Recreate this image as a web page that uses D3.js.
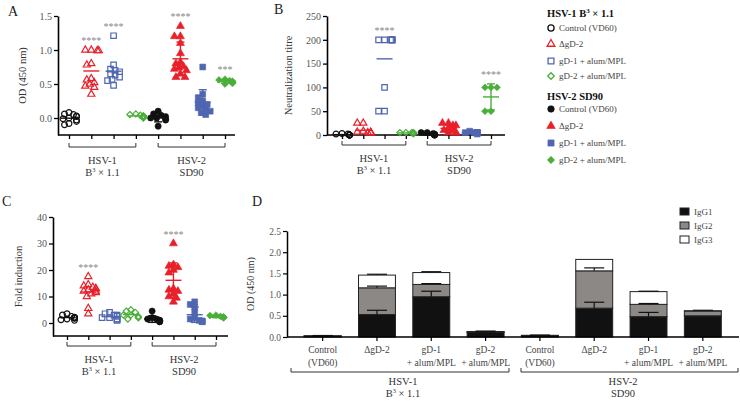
<!DOCTYPE html>
<html>
<head>
<meta charset="utf-8">
<script src="https://cdn.jsdelivr.net/npm/d3@7"></script>
<style>
  body { margin: 0; background: #fff; }
  svg { font-family: "Liberation Serif", "DejaVu Serif", serif; }
</style>
</head>
<body>
<svg id="chart" width="740" height="401"></svg>
<script>
// groups, left to right in panels A-C
var groups = ["h1_ctrl", "h1_dgd2", "h1_gd1", "h1_gd2", "h2_ctrl", "h2_dgd2", "h2_gd1", "h2_gd2"];

// panel A: OD (450 nm)
var a_h1_ctrl = [0.08, 0.06, 0.05, 0.03, 0.02, 0.0, -0.01, -0.03, -0.05, -0.08, -0.1];
var a_h1_dgd2 = [1.0, 1.0, 0.99, 0.99, 0.8, 0.78, 0.58, 0.56, 0.52, 0.5, 0.47, 0.45, 0.35];
var a_h1_gd1 = [1.21, 0.78, 0.72, 0.7, 0.68, 0.65, 0.63, 0.6, 0.57, 0.55, 0.48];
var a_h1_gd2 = [0.06, 0.05, 0.04, 0.03, 0.03, 0.02, 0.01, 0.0];
var a_h2_ctrl = [0.1, 0.06, 0.04, 0.02, 0.0, 0.0, -0.02, -0.03, -0.12];
var a_h2_dgd2 = [1.35, 1.2, 1.2, 1.1, 0.95, 0.82, 0.8, 0.76, 0.74, 0.72, 0.7, 0.65, 0.6, 0.6];
var a_h2_gd1 = [0.75, 0.35, 0.3, 0.25, 0.22, 0.2, 0.18, 0.15, 0.12, 0.1, 0.08, 0.05];
var a_h2_gd2 = [0.57, 0.56, 0.55, 0.54, 0.53, 0.52, 0.51, 0.5];
var a_stars = ["", "****", "****", "", "", "****", "", "***"];

// panel B: neutralization titre
var b_h1_ctrl = [3, 2, 2, 0, 0, 0, 0, 0];
var b_h1_dgd2 = [25, 25, 8, 6, 5, 5, 5, 5, 5];
var b_h1_gd1 = [200, 200, 200, 200, 200, 200, 200, 100, 50, 50];
var b_h1_gd2 = [5, 5, 5, 5, 5, 3, 3];
var b_h2_ctrl = [5, 5, 3, 2, 0, 0, 0, 0];
var b_h2_dgd2 = [25, 25, 20, 20, 15, 10, 10, 5, 5, 5];
var b_h2_gd1 = [8, 5, 5, 5, 5, 5, 5, 5, 2];
var b_h2_gd2 = [100, 100, 100, 50, 50];
var b_stars = ["", "", "****", "", "", "", "", "****"];

// panel C: fold induction
var c_h1_ctrl = [3.5, 3, 2.5, 2.2, 2, 2, 1.8, 1.5, 1.2, 1];
var c_h1_dgd2 = [17.5, 14.5, 14, 13.5, 13, 13, 12.5, 12, 12, 11.5, 11, 10, 5.5, 3.5];
var c_h1_gd1 = [4, 3.5, 3, 3, 2.5, 2, 2, 1.5, 1.5, 1];
var c_h1_gd2 = [5, 4.5, 4, 3, 3, 2.5, 2, 1.5];
var c_h2_ctrl = [4.5, 2, 1.5, 1.5, 1, 1, 0.8, 0.5, 0.5];
var c_h2_dgd2 = [30, 22, 21.5, 21, 20, 19, 13, 12.5, 12, 11, 10, 9.5, 8];
var c_h2_gd1 = [8, 7, 6, 4, 2, 1.5, 1, 0.8, 0.5, 0.5];
var c_h2_gd2 = [3, 2.8, 2.5, 2.3, 2.2, 2, 2];
var c_stars = ["", "****", "", "", "", "****", "", ""];

// panel D: IgG subclasses, stacked
var d_cats = ["h1_ctrl", "h1_dgd2", "h1_gd1", "h1_gd2", "h2_ctrl", "h2_dgd2", "h2_gd1", "h2_gd2"];
var d_labels = [["Control", "(VD60)"], ["ΔgD-2"], ["gD-1", "+ alum/MPL"], ["gD-2", "+ alum/MPL"],
                ["Control", "(VD60)"], ["ΔgD-2"], ["gD-1", "+ alum/MPL"], ["gD-2", "+ alum/MPL"]];
var d_igg1 = [0.02, 0.53, 0.95, 0.11, 0.03, 0.68, 0.48, 0.50];
var d_igg2 = [0.005, 0.63, 0.29, 0.01, 0.005, 0.88, 0.29, 0.11];
var d_igg3 = [0.005, 0.30, 0.28, 0.01, 0.005, 0.27, 0.30, 0.01];
var d_err1 = [0.005, 0.10, 0.13, 0.01, 0.005, 0.14, 0.10, 0.0];
var d_err2 = [0, 0.04, 0.02, 0, 0, 0.07, 0.02, 0.0];
var d_err3 = [0.005, 0.02, 0.02, 0.01, 0.005, 0.0, 0.01, 0.01];

var red = "#e8202a", blue = "#5066b0", green = "#4aae3a", black = "#111";
var diamond = d3.symbolDiamond2 || d3.symbolDiamond;
var gColor = [black, red, blue, green, black, red, blue, green];
var gShape = [d3.symbolCircle, d3.symbolTriangle, d3.symbolSquare, diamond,
              d3.symbolCircle, d3.symbolTriangle, d3.symbolSquare, diamond];
var gSize = [26, 22, 30, 24, 30, 28, 34, 30];
var gOpen = [true, true, true, true, false, false, false, false];

var svg = d3.select("#chart");

function txt(x, y, s, opt) {
  opt = opt || {};
  var t = svg.append("text").attr("x", x).attr("y", y)
    .attr("font-size", opt.size || 10)
    .attr("fill", opt.fill || "#333")
    .attr("text-anchor", opt.anchor || "start")
    .text(s);
  if (opt.weight) t.attr("font-weight", opt.weight);
  if (opt.rotate) t.attr("transform", "rotate(-90," + x + "," + y + ")");
  return t;
}

function strainLabel(x, y, first, second, size) {
  txt(x, y, first, {anchor: "middle", size: size});
  if (second === "B3") {
    var t = txt(x, y + 12, "B", {anchor: "middle", size: size});
    t.append("tspan").attr("font-size", size * 0.6).attr("dy", -4).text("3");
    t.append("tspan").attr("dy", 4).text(" × 1.1");
  } else {
    txt(x, y + 12, second, {anchor: "middle", size: size});
  }
}

function bracket(x0, x1, y) {
  svg.append("path")
    .attr("d", "M" + x0 + "," + (y - 4) + "V" + y + "H" + x1 + "V" + (y - 4))
    .attr("fill", "none").attr("stroke", "#333").attr("stroke-width", 1);
}

// simple beeswarm so overlapping points sit side by side
function swarm(vals, y, minD, step, maxOff) {
  var pts = vals.map(function (v) { return {v: v, py: y(v)}; })
    .sort(function (a, b) { return a.py - b.py; });
  var placed = [];
  pts.forEach(function (d) {
    var best = 0;
    for (var k = 0; k < 40; k++) {
      var off = (k % 2 ? -1 : 1) * Math.ceil(k / 2) * step;
      if (Math.abs(off) > maxOff) break;
      var ok = placed.every(function (p) {
        var dx = p.dx - off, dy = p.py - d.py;
        return dx * dx + dy * dy >= minD * minD;
      });
      if (ok) { best = off; break; }
      best = off;
    }
    d.dx = best;
    placed.push(d);
  });
  return pts;
}

function scatterPanel(p) {
  var y = d3.scaleLinear().domain(p.yDomain).range([p.yBottom, p.yTop]);
  var x = d3.scalePoint().domain(groups).range(p.xRange);

  var gy = svg.append("g").attr("transform", "translate(" + p.axisX + ",0)")
    .call(d3.axisLeft(y).tickValues(p.yTicks).tickFormat(p.fmt).tickSize(4).tickSizeOuter(0));
  gy.select(".domain").attr("stroke", "#000").attr("stroke-width", 1.6);
  gy.selectAll(".tick line").attr("stroke", "#000").attr("stroke-width", 1.3);
  gy.selectAll(".tick text").attr("font-family", "Liberation Serif").attr("font-size", 10).attr("fill", "#555").attr("x", -6);

  svg.append("line").attr("x1", p.axisX).attr("x2", p.xEnd)
    .attr("y1", p.yBottom).attr("y2", p.yBottom)
    .attr("stroke", "#000").attr("stroke-width", 1.6);
  var gx = svg.append("g").attr("transform", "translate(0," + p.yBottom + ")")
    .call(d3.axisBottom(x).tickSize(4).tickFormat(""));
  gx.select(".domain").remove();
  gx.selectAll(".tick line").attr("stroke", "#000").attr("stroke-width", 1.3);

  txt(p.labelX, (p.yTop + p.yBottom) / 2, p.yLabel, {anchor: "middle", rotate: true, size: 10.5, fill: "#333"});

  p.series.forEach(function (vals, i) {
    var g = groups[i], cx = x(g), col = gColor[i];
    var pts = swarm(vals, y, 4.6, 1.5, 8);
    var sym = d3.symbol().type(gShape[i]).size(gSize[i]);
    svg.append("g").selectAll("path").data(pts).enter().append("path")
      .attr("d", sym)
      .attr("transform", function (d) { return "translate(" + (cx + d.dx) + "," + d.py + ")"; })
      .attr("fill", gOpen[i] ? "none" : col)
      .attr("stroke", col).attr("stroke-width", gOpen[i] ? 1.2 : 0.6);

    // mean line for all groups, SD whiskers only on the HSV-2 (filled) groups
    var m = d3.mean(vals), sd = d3.deviation(vals) || 0;
    var lg = svg.append("g").attr("stroke", col).attr("stroke-width", 1.4);
    lg.append("line").attr("x1", cx - 8).attr("x2", cx + 8).attr("y1", y(m)).attr("y2", y(m));
    if (!gOpen[i]) {
      lg.append("line").attr("x1", cx).attr("x2", cx).attr("y1", y(m - sd)).attr("y2", y(m + sd));
      [m - sd, m + sd].forEach(function (v) {
        lg.append("line").attr("x1", cx - 4).attr("x2", cx + 4).attr("y1", y(v)).attr("y2", y(v));
      });
    }

    if (p.stars[i]) {
      var top = Math.min(y(d3.max(vals)), gOpen[i] ? 1e9 : y(m + sd));
      txt(cx, top - 6, p.stars[i], {anchor: "middle", size: 10, fill: "#888"});
    }
  });

  var first = x(groups[0]), h1end = x(groups[3]), h2start = x(groups[4]), last = x(groups[7]);
  bracket(first, h1end, p.bracketY);
  bracket(h2start, last, p.bracketY);
  strainLabel((first + h1end) / 2, p.bracketY + 17, "HSV-1", "B3", 10.5);
  strainLabel((h2start + last) / 2, p.bracketY + 17, "HSV-2", "SD90", 10.5);
}

var fmt1 = d3.format(".1f"), fmt0 = d3.format("d");

scatterPanel({
  yDomain: [-0.25, 1.5], yBottom: 135, yTop: 16, yTicks: [0, 0.5, 1.0, 1.5], fmt: fmt1,
  xRange: [69, 225], axisX: 58, xEnd: 235, labelX: 26, yLabel: "OD (450 nm)",
  series: [a_h1_ctrl, a_h1_dgd2, a_h1_gd1, a_h1_gd2, a_h2_ctrl, a_h2_dgd2, a_h2_gd1, a_h2_gd2],
  stars: a_stars, bracketY: 147
});

scatterPanel({
  yDomain: [0, 250], yBottom: 135, yTop: 16, yTicks: [0, 50, 100, 150, 200, 250], fmt: fmt0,
  xRange: [342, 491], axisX: 327, xEnd: 505, labelX: 292, yLabel: "Neutralization titre",
  series: [b_h1_ctrl, b_h1_dgd2, b_h1_gd1, b_h1_gd2, b_h2_ctrl, b_h2_dgd2, b_h2_gd1, b_h2_gd2],
  stars: b_stars, bracketY: 145
});

scatterPanel({
  yDomain: [-4.9, 40], yBottom: 336, yTop: 217, yTicks: [0, 10, 20, 30, 40], fmt: fmt0,
  xRange: [67, 216], axisX: 53, xEnd: 228, labelX: 22, yLabel: "Fold induction",
  series: [c_h1_ctrl, c_h1_dgd2, c_h1_gd1, c_h1_gd2, c_h2_ctrl, c_h2_dgd2, c_h2_gd1, c_h2_gd2],
  stars: c_stars, bracketY: 346
});

// panel letters
txt(8, 16, "A", {size: 14, fill: "#222"});
txt(274, 14, "B", {size: 14, fill: "#222"});
txt(2, 206, "C", {size: 14, fill: "#222"});
txt(252, 206, "D", {size: 14, fill: "#222"});

// legend for A-C
var legItems = ["Control (VD60)", "ΔgD-2", "gD-1 + alum/MPL", "gD-2 + alum/MPL"];
function legendBlock(title, yTitle, ys, offset) {
  var t = txt(547, yTitle, "", {size: 10.5, weight: "bold", fill: "#111"});
  if (title === "HSV-1") {
    t.append("tspan").text("HSV-1 B");
    t.append("tspan").attr("font-size", 7).attr("dy", -4).text("3");
    t.append("tspan").attr("dy", 4).text(" × 1.1");
  } else {
    t.text("HSV-2 SD90");
  }
  legItems.forEach(function (s, k) {
    var i = k + offset;
    svg.append("path").attr("d", d3.symbol().type(gShape[i]).size(gSize[i] + 4))
      .attr("transform", "translate(551," + (ys[k] - 3) + ")")
      .attr("fill", gOpen[i] ? "none" : gColor[i])
      .attr("stroke", gColor[i]).attr("stroke-width", gOpen[i] ? 1.3 : 0.6);
    txt(559, ys[k], s, {size: 9, fill: "#444"});
  });
}
legendBlock("HSV-1", 17, [31, 47, 64, 79], 0);
legendBlock("HSV-2", 100, [112, 129, 146, 163], 4);

// panel D
var dTable = d_cats.map(function (c, i) {
  return {cat: c, IgG1: d_igg1[i], IgG2: d_igg2[i], IgG3: d_igg3[i],
          e1: d_err1[i], e2: d_err2[i], e3: d_err3[i], label: d_labels[i]};
});
var keys = ["IgG1", "IgG2", "IgG3"];
var errKey = {IgG1: "e1", IgG2: "e2", IgG3: "e3"};
var fills = {IgG1: "#111", IgG2: "#8b8886", IgG3: "#fff"};
var stacked = d3.stack().keys(keys)(dTable);

var xd = d3.scaleBand().domain(d_cats).range([295.5, 730]).paddingInner(0.32).paddingOuter(0.16);
var yd = d3.scaleLinear().domain([0, 2.5]).range([337, 231]);

var gyd = svg.append("g").attr("transform", "translate(287,0)")
  .call(d3.axisLeft(yd).tickValues([0, 0.5, 1.0, 1.5, 2.0, 2.5]).tickFormat(fmt1).tickSize(4).tickSizeOuter(0));
gyd.select(".domain").attr("stroke", "#000").attr("stroke-width", 1.5);
gyd.selectAll(".tick line").attr("stroke", "#000").attr("stroke-width", 1.2);
gyd.selectAll(".tick text").attr("font-family", "Liberation Serif").attr("font-size", 9.5).attr("fill", "#555").attr("x", -6);
txt(254, 284, "OD (450 nm)", {anchor: "middle", rotate: true, size: 10, fill: "#333"});

stacked.forEach(function (layer) {
  svg.append("g").selectAll("rect").data(layer).enter().append("rect")
    .attr("x", function (d) { return xd(d.data.cat); })
    .attr("width", xd.bandwidth())
    .attr("y", function (d) { return yd(d[1]); })
    .attr("height", function (d) { return Math.max(0.5, yd(d[0]) - yd(d[1])); })
    .attr("fill", fills[layer.key])
    .attr("stroke", "#222").attr("stroke-width", 1);
});
stacked.forEach(function (layer) {
  var eg = svg.append("g").attr("stroke", "#111").attr("stroke-width", 1.2);
  layer.forEach(function (d) {
    var e = d.data[errKey[layer.key]];
    if (!e) return;
    var cx = xd(d.data.cat) + xd.bandwidth() / 2;
    eg.append("line").attr("x1", cx).attr("x2", cx).attr("y1", yd(d[1])).attr("y2", yd(d[1] + e));
    eg.append("line").attr("x1", cx - 10).attr("x2", cx + 10).attr("y1", yd(d[1] + e)).attr("y2", yd(d[1] + e));
  });
});

svg.append("line").attr("x1", 287).attr("x2", 739).attr("y1", 337).attr("y2", 337)
  .attr("stroke", "#000").attr("stroke-width", 1.5);
var gxd = svg.append("g").attr("transform", "translate(0,337)")
  .call(d3.axisBottom(xd).tickSize(4).tickFormat(""));
gxd.select(".domain").remove();
gxd.selectAll(".tick line").attr("stroke", "#000").attr("stroke-width", 1.2);

dTable.forEach(function (d) {
  var cx = xd(d.cat) + xd.bandwidth() / 2;
  d.label.forEach(function (s, k) {
    txt(cx, 353 + k * 13, s, {anchor: "middle", size: 9.5, fill: "#444"});
  });
});

bracket(291, 509, 372);
bracket(521, 738, 372);
strainLabel(403, 385, "HSV-1", "B3", 10.5);
strainLabel(623, 385, "HSV-2", "SD90", 10.5);

// IgG legend
keys.forEach(function (k, i) {
  var yy = 208 + i * 14;
  svg.append("rect").attr("x", 680).attr("y", yy).attr("width", 9).attr("height", 7)
    .attr("fill", fills[k]).attr("stroke", "#222").attr("stroke-width", 1);
  txt(694, yy + 6.5, k, {size: 9, fill: "#444"});
});
</script>
</body>
</html>
